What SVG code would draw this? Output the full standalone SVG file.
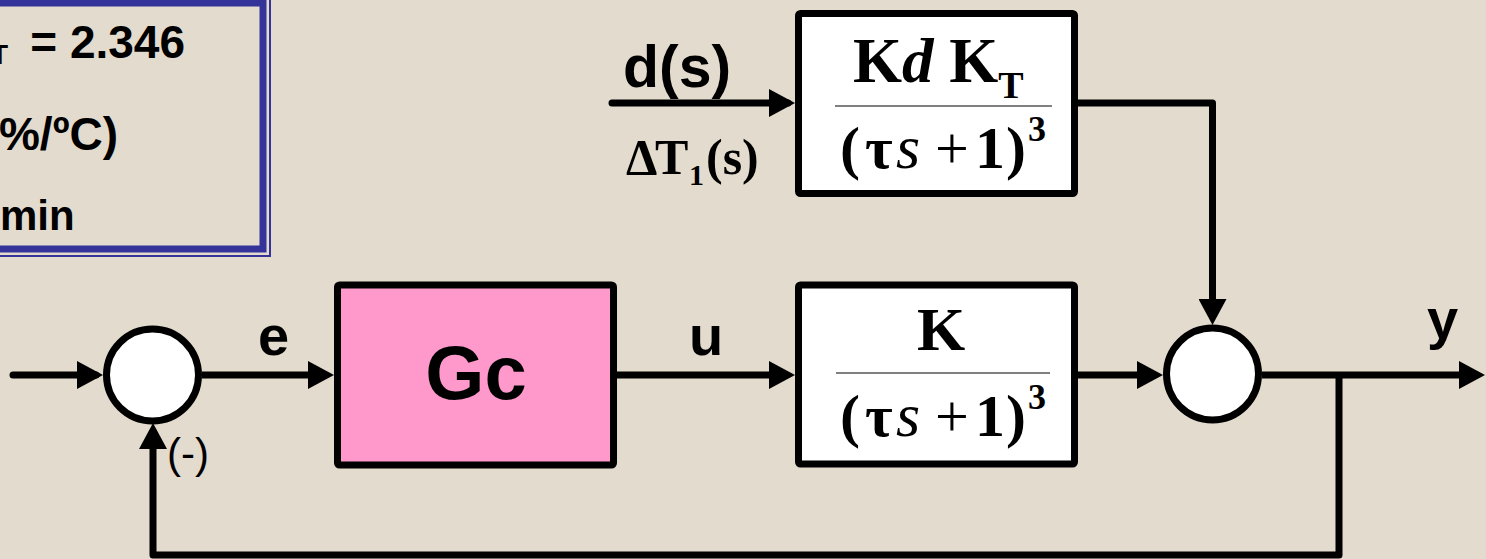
<svg xmlns="http://www.w3.org/2000/svg" width="1486" height="559" viewBox="0 0 1486 559">
<style>
.ln{fill:none;stroke:#000;stroke-width:7;stroke-linejoin:round}
.blk{fill:#fff;stroke:#000;stroke-width:7;stroke-linejoin:round}
.sum{fill:#fff;stroke:#000;stroke-width:7}
.frac{stroke:#808080;stroke-width:2}
.lab{font-family:"Liberation Sans",Arial,sans-serif;font-weight:bold;fill:#000}
.tm{font-family:"Liberation Serif","Times New Roman",serif;font-weight:bold;fill:#000}
</style>
<defs>
<marker id="ah" markerUnits="userSpaceOnUse" viewBox="0 0 26 28" refX="19" refY="14" markerWidth="26" markerHeight="28" orient="auto">
<path d="M0,0 L26,14 L0,28 z" fill="#000"/>
</marker>
</defs>
<rect x="0" y="0" width="1486" height="559" fill="#E3DBCD"/>

<g id="info">
<rect x="-20" y="-4" width="290" height="260" fill="none" stroke="#333399" stroke-width="2"/>
<rect x="-20" y="3" width="283" height="246" fill="none" stroke="#333399" stroke-width="7"/>
<text class="lab" x="8" y="64" font-size="28" text-anchor="end">T</text>
<text class="lab" x="185" y="58" font-size="46" text-anchor="end">= 2.346</text>
<text class="lab" x="118" y="150" font-size="46" text-anchor="end">%/ºC)</text>
<text class="lab" x="0" y="230" font-size="42">min</text>
</g>

<g id="connectors">
<path class="ln" d="M13,375 H96" marker-end="url(#ah)" stroke-linecap="round"/>
<path class="ln" d="M202,375 H327" marker-end="url(#ah)"/>
<path class="ln" d="M614,375 H788" marker-end="url(#ah)"/>
<path class="ln" d="M612,103 H788" marker-end="url(#ah)" stroke-linecap="round"/>
<path class="ln" d="M1075,375 H1156" marker-end="url(#ah)"/>
<path class="ln" d="M1075,103 H1212.5 V318" marker-end="url(#ah)"/>
<path class="ln" d="M1262,375 H1478" marker-end="url(#ah)"/>
<path class="ln" d="M1339,375 V555 H153 V430" marker-end="url(#ah)"/>
</g>

<g id="sum1">
<circle class="sum" cx="152.5" cy="375" r="46"/>
<text class="lab" x="167" y="468" font-size="42" style="font-weight:normal">(-)</text>
</g>

<g id="sum2">
<circle class="sum" cx="1212.5" cy="374" r="46"/>
</g>

<g id="gc">
<rect class="blk" x="337.5" y="285" width="276" height="180" rx="2" style="fill:#FF99CC"/>
<text class="lab" x="476" y="399" font-size="76" text-anchor="middle">Gc</text>
</g>

<g id="disturbance">
<rect class="blk" x="798.5" y="13.5" width="276" height="180" rx="2"/>
<text class="tm" font-size="63" y="82"><tspan x="853">K</tspan><tspan font-style="italic">d</tspan><tspan> K</tspan><tspan font-size="38" dy="16">T</tspan></text>
<line class="frac" x1="835" y1="106" x2="1052" y2="106"/>
<text class="tm" font-size="60" y="168"><tspan x="840">(</tspan><tspan x="865">τ</tspan><tspan x="896" font-style="italic" font-weight="normal" font-size="62">s</tspan><tspan x="935" font-weight="normal">+</tspan><tspan x="975">1</tspan><tspan x="1006">)</tspan><tspan x="1028" y="141" font-size="36">3</tspan></text>
</g>

<g id="plant">
<rect class="blk" x="798.5" y="285" width="276" height="179" rx="2"/>
<text class="tm" font-size="62" x="941" y="350" text-anchor="middle">K</text>
<line class="frac" x1="836" y1="373" x2="1050" y2="373"/>
<text class="tm" font-size="60" y="436"><tspan x="840">(</tspan><tspan x="865">τ</tspan><tspan x="896" font-style="italic" font-weight="normal" font-size="62">s</tspan><tspan x="935" font-weight="normal">+</tspan><tspan x="975">1</tspan><tspan x="1006">)</tspan><tspan x="1028" y="409" font-size="36">3</tspan></text>
</g>

<g id="labels">
<text class="lab" x="258" y="355" font-size="56">e</text>
<text class="lab" x="689" y="355" font-size="56">u</text>
<text class="lab" x="1427" y="338" font-size="56">y</text>
<text class="lab" x="623" y="87" font-size="59">d(s)</text>
<text class="tm" font-size="50" y="174"><tspan x="626">Δ</tspan><tspan x="655">T</tspan><tspan x="689" y="185" font-size="30">1</tspan><tspan x="706" y="174">(s)</tspan></text>
</g>
</svg>
